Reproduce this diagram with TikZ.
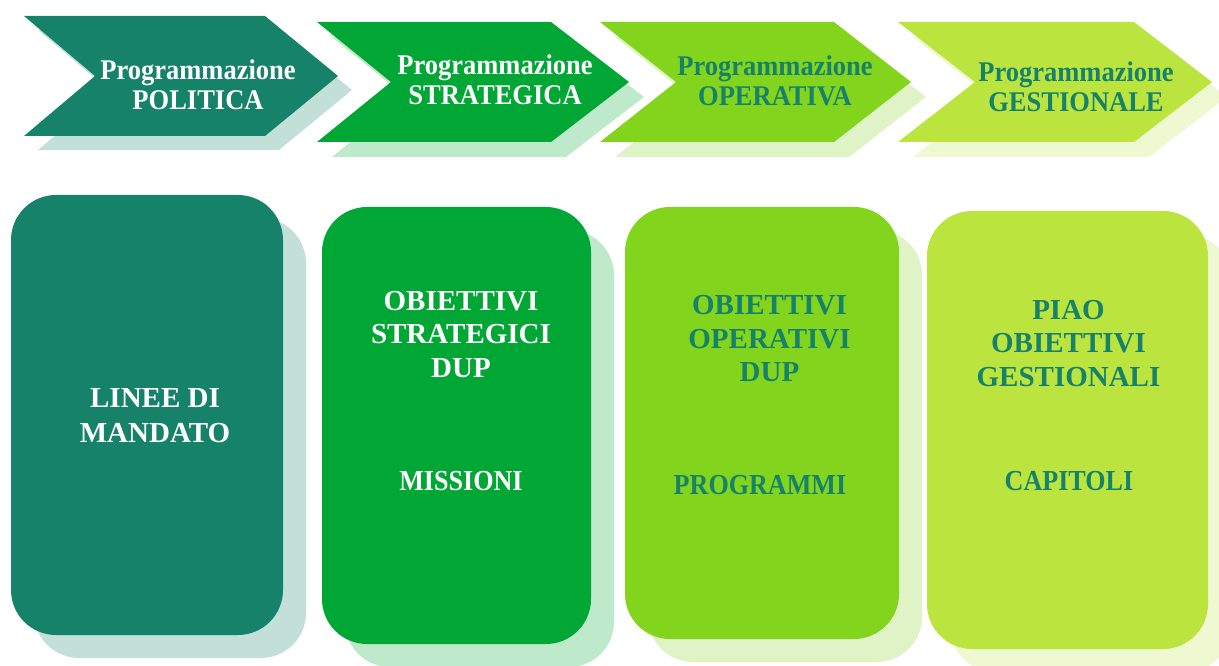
\documentclass[tikz,border=0pt]{standalone}
\usepackage{fontspec}
\setmainfont{Liberation Serif}
\newfontfamily\chevfont[FakeStretch=0.93]{Liberation Serif}
\newfontfamily\narrowfont[FakeStretch=0.9]{Liberation Serif}
\definecolor{cA}{HTML}{17826A}
\definecolor{cB}{HTML}{00A735}
\definecolor{cC}{HTML}{82D41C}
\definecolor{cD}{HTML}{BBE43F}
\definecolor{sA}{HTML}{C3E0D8}
\definecolor{sB}{HTML}{BFE9CB}
\definecolor{sC}{HTML}{DFF3C7}
\definecolor{sD}{HTML}{EEF8D1}
\begin{document}
\begin{tikzpicture}[x=1pt,y=-1pt,
  chevtext/.style={font=\chevfont\bfseries\fontsize{28.5}{30}\selectfont, align=center, inner sep=0pt},
  boxtext/.style={font=\bfseries\fontsize{29}{33.5}\selectfont, align=center, inner sep=0pt},
  lowtext/.style={font=\narrowfont\bfseries\fontsize{29}{33.5}\selectfont, align=center, inner sep=0pt},
  roundbox/.style={rounded corners=45pt},
]
\useasboundingbox (0,0) rectangle (1219,666);
\clip (0,0) rectangle (1219,666);
% chevron shadows
\fill[sA, shift={(14,14)}] (24,16) -- (265,16) -- (338,76) -- (265,136) -- (24,136) -- (95,76) -- cycle;
\fill[sB, shift={(15,15)}] (317,22) -- (551,22) -- (629,82) -- (551,142) -- (317,142) -- (391,82) -- cycle;
\fill[sC, shift={(15,15)}] (600,22) -- (834,22) -- (911,82) -- (834,142) -- (600,142) -- (676,82) -- cycle;
\fill[sD, shift={(15,15)}] (898,22) -- (1134,22) -- (1212,82) -- (1134,142) -- (898,142) -- (975,82) -- cycle;
% chevrons
\fill[cA] (24,16) -- (265,16) -- (338,76) -- (265,136) -- (24,136) -- (95,76) -- cycle;
\fill[cB] (317,22) -- (551,22) -- (629,82) -- (551,142) -- (317,142) -- (391,82) -- cycle;
\fill[cC] (600,22) -- (834,22) -- (911,82) -- (834,142) -- (600,142) -- (676,82) -- cycle;
\fill[cD] (898,22) -- (1134,22) -- (1212,82) -- (1134,142) -- (898,142) -- (975,82) -- cycle;
% chevron labels
\node[chevtext, text=white] (t1) at (198,84.5) {Programmazione\\POLITICA};
\node[chevtext, text=white] (t2) at (495,80) {Programmazione\\STRATEGICA};
\node[chevtext, text=cA] (t3) at (775,80.5) {Programmazione\\OPERATIVA};
\node[chevtext, text=cA] (t4) at (1076,87) {Programmazione\\GESTIONALE};
% box shadows
\fill[sA, roundbox] (34,218) rectangle (306,658);
\fill[sB, roundbox] (345,230) rectangle (614,667);
\fill[sC, roundbox] (648,230) rectangle (922,662);
\fill[sD, roundbox] (950,234) rectangle (1231,672);
% boxes
\fill[cA, roundbox] (11,195) rectangle (283,635);
\fill[cB, roundbox] (322,207) rectangle (591,644);
\fill[cC, roundbox] (625,207) rectangle (899,639);
\fill[cD, roundbox] (927,211) rectangle (1208,649);
% box labels
\node[boxtext, text=white, font=\bfseries\fontsize{29}{35}\selectfont] (b1) at (155,415.5) {LINEE DI\\MANDATO};
\node[boxtext, text=white] (b2a) at (461,334.5) {OBIETTIVI\\STRATEGICI\\DUP};
\node[lowtext, text=white] (b2b) at (461,481) {MISSIONI};
\node[boxtext, text=cA] (b3a) at (769.5,339) {OBIETTIVI\\OPERATIVI\\DUP};
\node[lowtext, text=cA] (b3b) at (760,485) {PROGRAMMI};
\node[boxtext, text=cA] (b4a) at (1068.5,343.5) {PIAO\\OBIETTIVI\\GESTIONALI};
\node[lowtext, text=cA] (b4b) at (1069,481) {CAPITOLI};
\end{tikzpicture}
\end{document}
